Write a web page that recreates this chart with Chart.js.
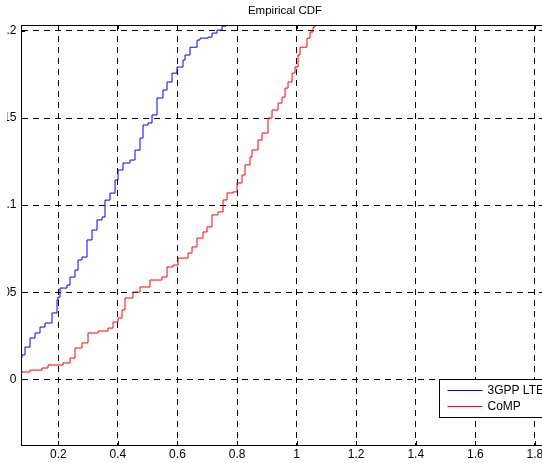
<!DOCTYPE html>
<html lang="en">
<head>
  <meta charset="UTF-8">
  <title>Empirical CDF</title>
  <script src="https://cdn.jsdelivr.net/npm/chart.js"></script>
  <style>
    body { margin: 0; width: 542px; height: 463px; overflow: hidden; background: #fff; position: relative; }
    /* the original picture is cropped on the left, through the y labels */
    .chart-box { position: absolute; left: -8px; top: 0; width: 600px; height: 463px; clip-path: inset(0 0 0 15.5px); }
  </style>
</head>
<body>
  <div class="chart-box"><canvas id="cdfChart"></canvas></div>

  <script>
    // 3GPP LTE curve
    const lteX = [0.0715, 0.0782, 0.0883, 0.1051, 0.1219, 0.1386, 0.1554, 0.1789, 0.1957, 0.1990,
                  0.2058, 0.2293, 0.2393, 0.2561, 0.2662, 0.2796, 0.2964, 0.3132, 0.3300, 0.3468,
                  0.3568, 0.3736, 0.3904, 0.4005, 0.4173, 0.4407, 0.4575, 0.4743, 0.4844, 0.5012,
                  0.5146, 0.5314, 0.5515, 0.5650, 0.5818, 0.5985, 0.6187, 0.6254, 0.6422, 0.6657,
                  0.6757, 0.7026, 0.7160, 0.7328, 0.7496, 0.7630];
    const lteY = [0.0123, 0.0140, 0.0185, 0.0237, 0.0266, 0.0300, 0.0323, 0.0381, 0.0456, 0.0472,
                  0.0524, 0.0541, 0.0587, 0.0627, 0.0685, 0.0702, 0.0800, 0.0857, 0.0915, 0.0932,
                  0.1029, 0.1069, 0.1144, 0.1202, 0.1242, 0.1259, 0.1316, 0.1385, 0.1460, 0.1472,
                  0.1518, 0.1615, 0.1661, 0.1707, 0.1758, 0.1793, 0.1833, 0.1862, 0.1907, 0.1948,
                  0.1959, 0.1965, 0.1988, 0.2005, 0.2028, 0.2051];

    // CoMP curve
    const compX = [0.0715, 0.0782, 0.1051, 0.1454, 0.1655, 0.2159, 0.2393, 0.2561, 0.2796, 0.2998,
                   0.3333, 0.3669, 0.3837, 0.4005, 0.4139, 0.4240, 0.4508, 0.4743, 0.5079, 0.5482,
                   0.5650, 0.5851, 0.6019, 0.6355, 0.6489, 0.6657, 0.6858, 0.6993, 0.7160, 0.7362,
                   0.7530, 0.7664, 0.7865, 0.7999, 0.8167, 0.8268, 0.8436, 0.8503, 0.8704, 0.8839,
                   0.9040, 0.9174, 0.9376, 0.9510, 0.9611, 0.9711, 0.9846, 0.9946, 1.0047, 1.0114,
                   1.0349, 1.0450, 1.0551, 1.0618, 1.0718];
    const compY = [0.0036, 0.0042, 0.0053, 0.0065, 0.0082, 0.0094, 0.0122, 0.0180, 0.0209, 0.0266,
                   0.0277, 0.0294, 0.0329, 0.0352, 0.0398, 0.0467, 0.0501, 0.0530, 0.0570, 0.0587,
                   0.0645, 0.0656, 0.0696, 0.0725, 0.0760, 0.0811, 0.0846, 0.0875, 0.0944, 0.0961,
                   0.1030, 0.1070, 0.1076, 0.1127, 0.1173, 0.1231, 0.1277, 0.1317, 0.1374, 0.1414,
                   0.1500, 0.1546, 0.1586, 0.1620, 0.1672, 0.1707, 0.1758, 0.1793, 0.1862, 0.1907,
                   0.1959, 0.1994, 0.2022, 0.2034, 0.2063];

    const seriesNames = ['3GPP LTE', 'CoMP'];
    const xTicks = [0.2, 0.4, 0.6, 0.8, 1, 1.2, 1.4, 1.6, 1.8];
    const xTickLabels = ['0.2', '0.4', '0.6', '0.8', '1', '1.2', '1.4', '1.6', '1.8'];
    const yTicks = [0, 0.05, 0.1, 0.15, 0.2];
    const yTickLabels = ['0', '0.05', '0.1', '0.15', '0.2'];

    const FAMILY = '"Liberation Sans", Arial, sans-serif';
    const FONT = { family: FAMILY, size: 12 };

    function toPoints(xs, ys) {
      return xs.map((x, i) => ({ x: x, y: ys[i] }));
    }

    // top border, little inward tick marks and the boxed legend, matlab style
    const matlabFrame = {
      id: 'matlabFrame',
      afterDraw(chart) {
        const ctx = chart.ctx;
        const area = chart.chartArea;
        const xs = chart.scales.x;
        const ys = chart.scales.y;
        ctx.save();
        ctx.strokeStyle = '#000';
        ctx.lineWidth = 1;
        ctx.beginPath();
        ctx.moveTo(area.left, area.top + 0.5);
        ctx.lineTo(area.right, area.top + 0.5);
        xTicks.forEach(v => {
          const px = Math.round(xs.getPixelForValue(v)) + 0.5;
          ctx.moveTo(px, area.top);
          ctx.lineTo(px, area.top + 4);
          ctx.moveTo(px, area.bottom);
          ctx.lineTo(px, area.bottom - 4);
        });
        yTicks.forEach(v => {
          const py = Math.round(ys.getPixelForValue(v)) + 0.5;
          ctx.moveTo(area.left, py);
          ctx.lineTo(area.left + 4, py);
        });
        ctx.stroke();

        // legend
        const boxL = area.left + 418.5;
        const boxT = area.top + 354.5;
        const boxR = area.right - 8.5;
        const boxH = 38;
        ctx.fillStyle = '#fff';
        ctx.fillRect(boxL, boxT, boxR - boxL, boxH);
        ctx.strokeRect(boxL, boxT, boxR - boxL, boxH);
        ctx.font = FONT.size + 'px ' + FONT.family;
        ctx.textBaseline = 'middle';
        ctx.textAlign = 'left';
        chart.data.datasets.forEach((ds, i) => {
          const ly = Math.round(boxT + 10 + i * 16.5) + 0.5;
          ctx.strokeStyle = ds.borderColor;
          ctx.beginPath();
          ctx.moveTo(boxL + 8, ly);
          ctx.lineTo(boxL + 43, ly);
          ctx.stroke();
          ctx.fillStyle = '#000';
          ctx.fillText(ds.label, boxL + 48, ly + 0.5);
        });
        ctx.restore();
      }
    };

    const ctx = document.getElementById('cdfChart').getContext('2d');
    new Chart(ctx, {
      type: 'line',
      data: {
        datasets: [
          { label: seriesNames[0], data: toPoints(lteX, lteY), borderColor: '#0000ff', borderWidth: 1, pointRadius: 0, stepped: true, fill: false },
          { label: seriesNames[1], data: toPoints(compX, compY), borderColor: '#ff0000', borderWidth: 1, pointRadius: 0, stepped: true, fill: false }
        ]
      },
      options: {
        responsive: true,
        maintainAspectRatio: false,
        animation: false,
        events: [],
        layout: { padding: { left: 0, right: 14, top: 0, bottom: 0 } },
        plugins: {
          legend: { display: false },
          tooltip: { enabled: false },
          title: {
            display: true,
            text: 'Empirical CDF',
            color: '#000',
            font: { family: FAMILY, size: 11.5, weight: 'normal' },
            padding: { top: 4, bottom: 7.2 }
          }
        },
        scales: {
          x: {
            type: 'linear',
            min: 0.0748,
            max: 1.9445,
            afterBuildTicks: s => { s.ticks = xTicks.map(v => ({ value: v })); },
            afterFit: s => { s.height = 18; },
            ticks: {
              color: '#000',
              font: FONT,
              padding: 2.5,
              maxRotation: 0,
              autoSkip: false,
              callback: v => xTickLabels[xTicks.indexOf(v)]
            },
            grid: { color: '#000', lineWidth: 1, drawTicks: false },
            border: { display: true, color: '#000', width: 1, dash: [6, 5] }
          },
          y: {
            type: 'linear',
            min: -0.03772,
            max: 0.20344,
            afterBuildTicks: s => { s.ticks = yTicks.map(v => ({ value: v })); },
            afterFit: s => { s.width = 29; },
            ticks: {
              color: '#000',
              font: FONT,
              padding: 4.5,
              autoSkip: false,
              callback: v => yTickLabels[yTicks.indexOf(v)]
            },
            grid: { color: '#000', lineWidth: 1, drawTicks: false },
            border: { display: true, color: '#000', width: 1, dash: [6, 5] }
          }
        }
      },
      plugins: [matlabFrame]
    });
  </script>
</body>
</html>
